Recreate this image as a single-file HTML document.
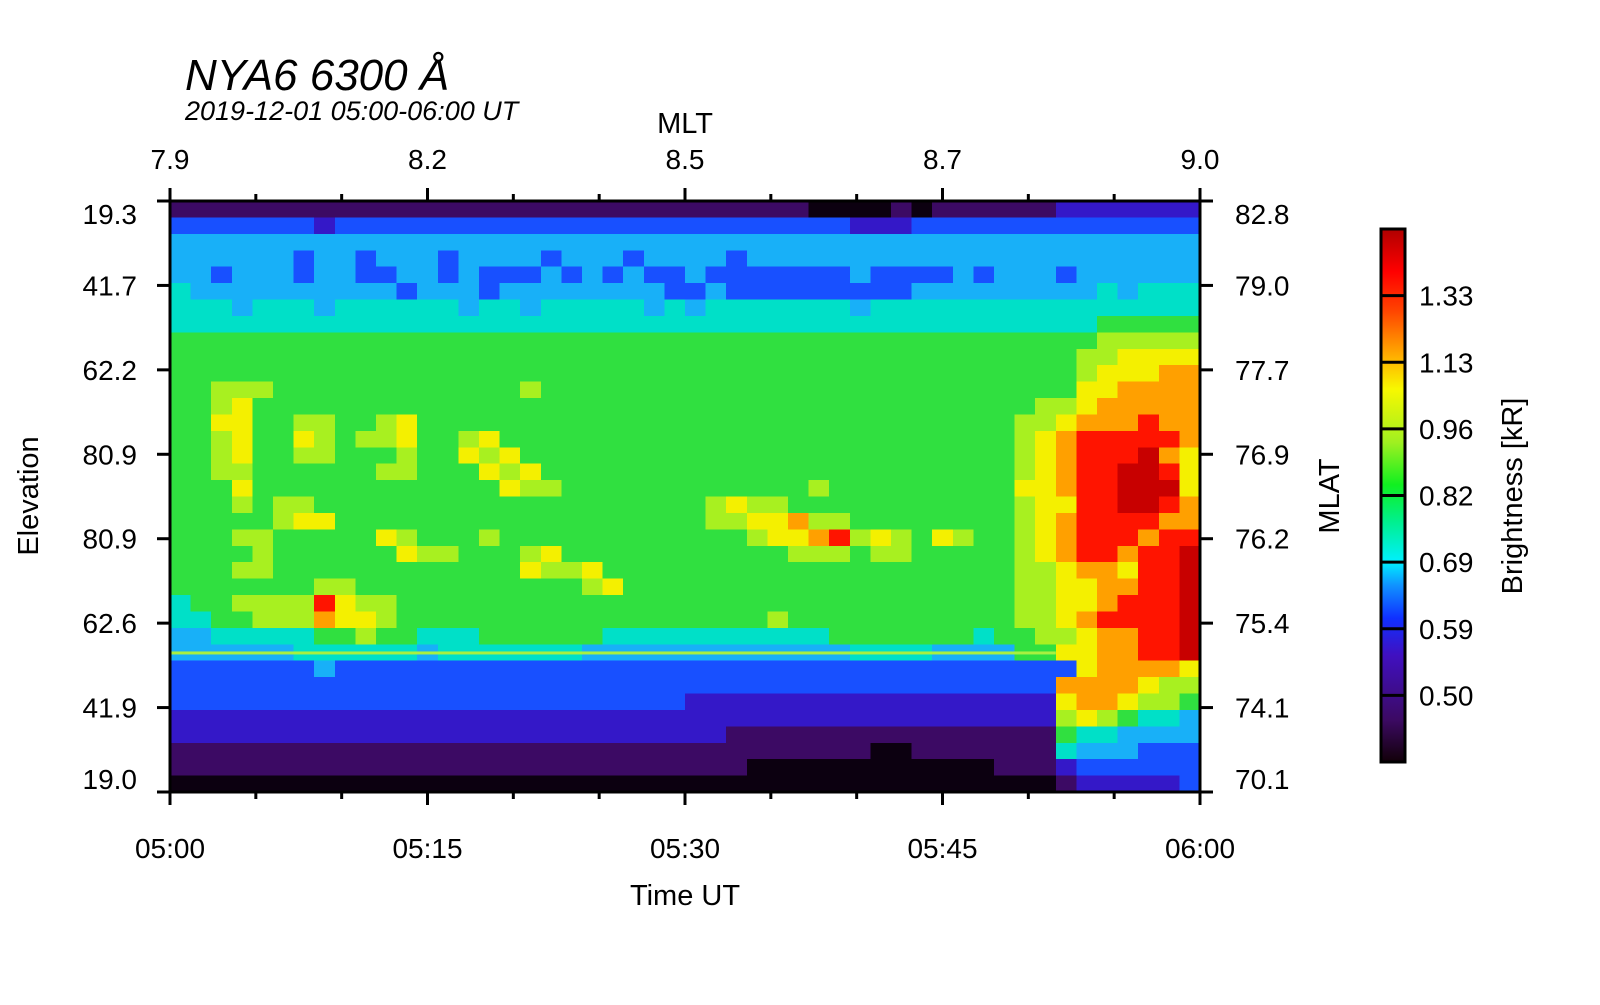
<!DOCTYPE html>
<html><head><meta charset="utf-8"><style>
body{margin:0;background:#fff;}
svg text{font-family:"Liberation Sans",sans-serif;fill:#000;}
</style></head><body>
<svg id="chart" width="1600" height="1000" viewBox="0 0 1600 1000" xmlns="http://www.w3.org/2000/svg">
<text x="185" y="90" font-size="44" font-style="italic">NYA6 6300 Å</text>
<text x="185" y="120" font-size="27" font-style="italic">2019-12-01 05:00-06:00 UT</text>
<text x="685" y="133" font-size="29" text-anchor="middle">MLT</text>
<text x="685" y="905" font-size="29" text-anchor="middle">Time UT</text>
<text transform="translate(38,496) rotate(-90)" font-size="29" text-anchor="middle">Elevation</text>
<text transform="translate(1339,496) rotate(-90)" font-size="29" text-anchor="middle">MLAT</text>
<text transform="translate(1522,496) rotate(-90)" font-size="29" text-anchor="middle">Brightness [kR]</text>
<g id="heat"></g>
<g id="axes"></g>
<g id="cbar"></g>
</svg>
<script>
const timeLabels=["05:00","05:15","05:30","05:45","06:00"];
const mltLabels=["7.9","8.2","8.5","8.7","9.0"];
const elevLabels=["19.3","41.7","62.2","80.9","80.9","62.6","41.9","19.0"];
const mlatLabels=["82.8","79.0","77.7","76.9","76.2","75.4","74.1","70.1"];
const cbarLabels=["1.33","1.13","0.96","0.82","0.69","0.59","0.50"];
const levelColors=["#0c0010","#3c0a64","#3418c8","#1850ff","#18b0f8","#00e0c8","#30e040","#a8f020","#f4f000","#ffa000","#ff1400","#c80000"];
const gridRows=[
"11111111111111111111111111111110000101111112222222",
"33333332333333333333333333333333322233333333333333",
"44444444444444444444444444444444444444444444444444",
"44444434434443444434443444434444444444444444444444",
"44344434433443433343434334333333343333434443444444",
"54444444444344434444444433433333333344444444454555",
"55545554555555455455555454555555545555555555555555",
"55555555555555555555555555555555555555555555566666",
"66666666666666666666666666666666666666666666677777",
"66666666666666666666666666666666666666666666778888",
"66666666666666666666666666666666666666666666788899",
"66777666666666666766666666666666666666666666889999",
"66786666666666666666666666666666666666666677899999",
"66886677667866666666666666666666666666666778999a99",
"66786687677866786666666666666666666666666789aaaaa9",
"66786677666766878666666666666666666666666789aaab98",
"66776666667766687866666666666666666666666789aabba8",
"66686666666666668776666666666667666666666889aabbb8",
"66676776666666666666666666787766666666666788aabba9",
"66666788666666666666666666778897766666666789aaaa99",
"66677666668766676666666666667889a78768766789aaa9aa",
"66667666666877666786666666666677767766666789aa9aab",
"66677666666666666877866666666666666666666778998aab",
"66666667766666666666786666666666666666666778899aab",
"5667777a87766666666666666666666666666666677889aaab",
"556677798876666666666666666667666666666667789aaaab",
"44555556676655566666655555555555666666656677899aab",
"44444455555545555555444444444444455554444668899aab",
"33333334333333333333333333333333333333333333899998",
"33333333333333333333333333333333333333333339999877",
"33333333333333333333333332222222222222222228998776",
"22222222222222222222222222222222222222222227876554",
"22222222222222222222222222211111111111111116554444",
"11111111111111111111111111111111110011111115444333",
"11111111111111111111111111110000000000001112333333",
"00000000000000000000000000000000000000000001222223"];
const lineRow=27.5;
const NS="http://www.w3.org/2000/svg";
const X0=170,X1=1200,Y0=201,Y1=792;
const nCols=50,nRows=gridRows.length;
function xCol(c){return X0+(X1-X0)*c/nCols;}
function yRow(r){return Y0+(Y1-Y0)*r/nRows;}
function xTime(i,n){return X0+(X1-X0)*i/n;}
function yTick(i,n){return Y0+(Y1-Y0)*i/n;}
function mk(tag,attrs,parent){const e=document.createElementNS(NS,tag);for(const k in attrs)e.setAttribute(k,attrs[k]);parent.appendChild(e);return e;}
const heat=document.getElementById('heat');
for(let r=0;r<nRows;r++){const s=gridRows[r];for(let c=0;c<nCols;c++){
 const ch=s[Math.min(c,s.length-1)];const v=parseInt(ch,16);
 const e=mk('rect',{x:xCol(c),y:yRow(r),width:(X1-X0)/nCols+0.6,height:(Y1-Y0)/nRows+0.6,fill:levelColors[v],'shape-rendering':'crispEdges'},heat);
 
 
}}
const ln=mk('rect',{x:X0,y:yRow(lineRow)-1,width:(X1-X0)*43/50,height:3,fill:"#a8f040"},heat);


const ax=document.getElementById('axes');
const fr=mk('rect',{x:X0,y:Y0,width:X1-X0,height:Y1-Y0,fill:'none',stroke:'#000','stroke-width':3},ax);


for(let i=0;i<=12;i++){const x=xTime(i,12);const maj=i%3==0;const L=maj?13:7;
 mk('line',{x1:x,x2:x,y1:Y1,y2:Y1+L,stroke:'#000','stroke-width':3},ax);
 mk('line',{x1:x,x2:x,y1:Y0,y2:Y0-L,stroke:'#000','stroke-width':3},ax);}
timeLabels.forEach((t,i)=>{const e=mk('text',{x:xTime(i,4),y:858,'font-size':28,'text-anchor':'middle'},ax);e.textContent=t;
 
 });
mltLabels.forEach((t,i)=>{const e=mk('text',{x:xTime(i,4),y:169,'font-size':28,'text-anchor':'middle'},ax);e.textContent=t;
 
 });
const nY=elevLabels.length-1;
for(let i=0;i<=nY;i++){const y=yTick(i,nY);
 mk('line',{x1:X0,x2:X0-13,y1:y,y2:y,stroke:'#000','stroke-width':3},ax);
 mk('line',{x1:X1,x2:X1+13,y1:y,y2:y,stroke:'#000','stroke-width':3},ax);
 const ly=(i==0?y+13:(i==nY?y-13:y))+10;
 const a=mk('text',{x:137,y:ly,'font-size':28,'text-anchor':'end'},ax);a.textContent=elevLabels[i];
 
 
 const b=mk('text',{x:1235,y:ly,'font-size':28},ax);b.textContent=mlatLabels[i];
 
 }
const cb=document.getElementById('cbar');
const CX=1381,CW=24,CY0=229,CY1=762,nSeg=cbarLabels.length+1;
const cbStops=[["#120008",0],["#3c0a64",0.08],["#4010c0",0.2],["#1030ff",0.27],["#1090ff",0.33],["#00f0ff",0.375],["#00f090",0.45],["#10f020",0.52],["#a0f020",0.6],["#f8f800",0.7],["#ffb000",0.76],["#ff4000",0.85],["#ff0000",0.92],["#b00000",1]];
const defs=mk('defs',{},cb);const g=mk('linearGradient',{id:'cg',x1:0,y1:1,x2:0,y2:0},defs);
cbStops.forEach(s=>mk('stop',{offset:s[1],'stop-color':s[0]},g));
const cr=mk('rect',{x:CX,y:CY0,width:CW,height:CY1-CY0,fill:'url(#cg)',stroke:'#000','stroke-width':3},cb);


cbarLabels.forEach((t,i)=>{const y=CY0+(CY1-CY0)*(i+1)/nSeg;
 mk('line',{x1:CX,x2:CX+CW,y1:y,y2:y,stroke:'#000','stroke-width':3},cb);
 const e=mk('text',{x:1419,y:y+10,'font-size':28},cb);e.textContent=t;
 
 });
</script>
</body></html>
